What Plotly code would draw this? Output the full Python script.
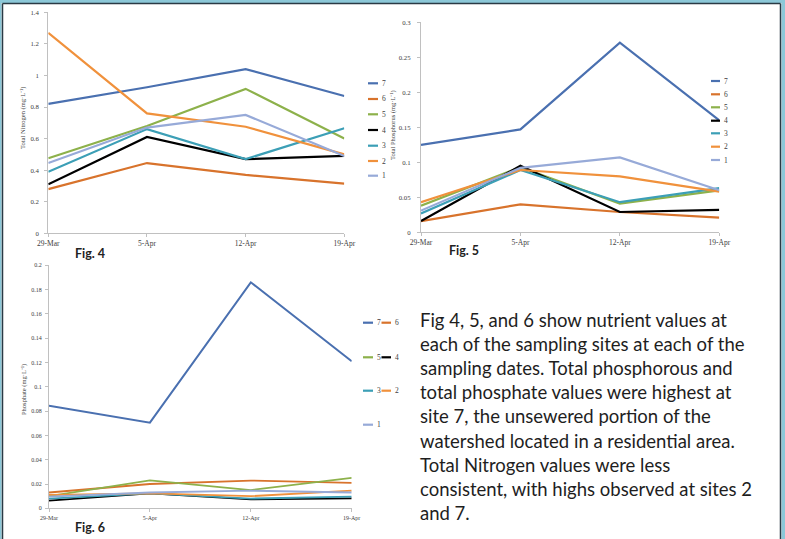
import plotly.graph_objects as go

W, H = 785, 539

dates = ["29-Mar", "5-Apr", "12-Apr", "19-Apr"]
sites = ["7", "6", "5", "4", "3", "2", "1"]

# Fig 4 - Total Nitrogen (mg/L)
tn_7 = [0.82, 0.925, 1.04, 0.87]
tn_6 = [0.28, 0.445, 0.37, 0.315]
tn_5 = [0.475, 0.68, 0.915, 0.60]
tn_4 = [0.31, 0.61, 0.47, 0.49]
tn_3 = [0.39, 0.66, 0.47, 0.665]
tn_2 = [1.27, 0.76, 0.675, 0.50]
tn_1 = [0.445, 0.67, 0.75, 0.49]

# Fig 5 - Total Phosphorus (mg/L)
tp_7 = [0.125, 0.147, 0.271, 0.16]
tp_6 = [0.016, 0.040, 0.029, 0.021]
tp_5 = [0.038, 0.093, 0.041, 0.060]
tp_4 = [0.016, 0.095, 0.029, 0.032]
tp_3 = [0.027, 0.089, 0.043, 0.063]
tp_2 = [0.043, 0.089, 0.080, 0.058]
tp_1 = [0.031, 0.092, 0.107, 0.060]

# Fig 6 - Phosphate (mg/L)
ph_7 = [0.0845, 0.0705, 0.186, 0.121]
ph_6 = [0.013, 0.020, 0.0228, 0.021]
ph_5 = [0.010, 0.023, 0.015, 0.025]
ph_4 = [0.0063, 0.0123, 0.0074, 0.0082]
ph_3 = [0.008, 0.0123, 0.008, 0.0096]
ph_2 = [0.011, 0.0123, 0.010, 0.0145]
ph_1 = [0.0096, 0.013, 0.0145, 0.013]

colors = {"7": "#4a70b0", "6": "#d8732c", "5": "#8db14b", "4": "#000000",
          "3": "#3c9fb6", "2": "#f0913c", "1": "#97aad8"}

tn = dict(zip(sites, [tn_7, tn_6, tn_5, tn_4, tn_3, tn_2, tn_1]))
tp = dict(zip(sites, [tp_7, tp_6, tp_5, tp_4, tp_3, tp_2, tp_1]))
ph = dict(zip(sites, [ph_7, ph_6, ph_5, ph_4, ph_3, ph_2, ph_1]))


def px(x):
    return x / W


def py(y):
    return 1 - y / H


fig = go.Figure()

for s in sites:
    fig.add_trace(go.Scatter(x=dates, y=tn[s], mode="lines", name=s,
                             line=dict(color=colors[s], width=2.2),
                             xaxis="x", yaxis="y", showlegend=False))
for s in sites:
    fig.add_trace(go.Scatter(x=dates, y=tp[s], mode="lines", name=s,
                             line=dict(color=colors[s], width=2.2),
                             xaxis="x2", yaxis="y2", showlegend=False))
for s in sites:
    fig.add_trace(go.Scatter(x=dates, y=ph[s], mode="lines", name=s,
                             line=dict(color=colors[s], width=2 if s == "7" else 1.8),
                             xaxis="x3", yaxis="y3", showlegend=False))

axis_col = "#c0c0c0"
xtick_font = dict(family="Liberation Serif", size=7.5, color="#404040")
ytick_font = dict(family="Liberation Serif", size=6.8, color="#404040")
tick_font6 = dict(family="Liberation Serif", size=6, color="#404040")


def xax(domain, anchor, font):
    return dict(domain=domain, anchor=anchor, type="category", range=[0, 3],
                showgrid=False, zeroline=False, showline=True, linecolor=axis_col,
                linewidth=1, ticks="outside", ticklen=3, tickcolor=axis_col,
                tickfont=font, fixedrange=True, automargin=False)


def yax(domain, anchor, rng, dtick, font, standoff):
    return dict(domain=domain, anchor=anchor, range=rng, dtick=dtick,
                showgrid=False, zeroline=False, showline=True, linecolor=axis_col,
                linewidth=1, ticks="outside", ticklen=3, tickcolor=axis_col,
                tickfont=font, fixedrange=True, automargin=False,
                ticklabelstandoff=standoff)


fig.update_layout(
    width=W, height=H, margin=dict(l=0, r=0, t=0, b=0, pad=0, autoexpand=False),
    paper_bgcolor="white", plot_bgcolor="white", showlegend=False,
    xaxis=xax([px(48.3), px(344.3)], "y", xtick_font),
    yaxis=yax([py(233.3), py(12.3)], "x", [0, 1.4], 0.2, ytick_font, 4),
    xaxis2=xax([px(421), px(719.3)], "y2", xtick_font),
    yaxis2=yax([py(232.3), py(22.3)], "x2", [0, 0.3], 0.05, ytick_font, 5),
    xaxis3=xax([px(49), px(351.7)], "y3", tick_font6),
    yaxis3=yax([py(508.3), py(265.3)], "x3", [0, 0.2], 0.02, tick_font6, 2),
)

shapes = []
annotations = []

# Legends drawn manually
leg_font = dict(family="Liberation Serif", size=7.5, color="#404040")


def legend_entry(s, x0, x1, y):
    shapes.append(dict(type="line", xref="paper", yref="paper",
                       x0=px(x0), x1=px(x1), y0=py(y), y1=py(y),
                       line=dict(color=colors[s], width=2.2)))
    annotations.append(dict(text=s, xref="paper", yref="paper", x=px(x1 + 1.5), y=py(y),
                            xanchor="left", yanchor="middle", showarrow=False, font=leg_font))


for s, y in zip(sites, [83.3, 99, 114.3, 130, 145.7, 161, 175.7]):
    legend_entry(s, 368, 378, y)
for s, y in zip(sites, [81, 94.3, 107.3, 120.7, 133.3, 146.7, 160]):
    legend_entry(s, 711, 720, y)
fig6_pos = [(363, 373, 322.7), (381.5, 391, 322.7), (363, 373, 357.3), (381.5, 391, 357.3),
            (363, 373, 390.7), (381.5, 391, 390.7), (363, 373, 424.7)]
for s, (x0, x1, y) in zip(sites, fig6_pos):
    legend_entry(s, x0, x1, y)

# Axis titles
title_font = dict(family="Liberation Serif", size=6.5, color="#404040")
annotations.append(dict(text="Total Nitrogen (mg·L⁻¹)", xref="paper", yref="paper",
                        x=px(23), y=py(118), textangle=-90, showarrow=False,
                        xanchor="center", yanchor="middle", font=title_font))
annotations.append(dict(text="Total Phosphorus (mg·L⁻¹)", xref="paper", yref="paper",
                        x=px(393), y=py(125), textangle=-90, showarrow=False,
                        xanchor="center", yanchor="middle", font=title_font))
annotations.append(dict(text="Phosphate (mg·L⁻¹)", xref="paper", yref="paper",
                        x=px(24), y=py(390), textangle=-90, showarrow=False,
                        xanchor="center", yanchor="middle", font=title_font))

# Figure labels
fig_font = dict(family="Lato", size=12.5, color="#222222")
for txt, x, y in [("<b>Fig. 4</b>", 73, 253), ("<b>Fig. 5</b>", 447, 250), ("<b>Fig. 6</b>", 73, 527)]:
    annotations.append(dict(text=txt, xref="paper", yref="paper", x=px(x), y=py(y),
                            xanchor="left", yanchor="middle", showarrow=False, font=fig_font))

# Body text
body_lines = [
    "Fig 4, 5, and 6 show nutrient values at",
    "each of the sampling sites at each of the",
    "sampling dates. Total phosphorous and",
    "total phosphate values were highest at",
    "site 7, the unsewered portion of the",
    "watershed located in a residential area.",
    "Total Nitrogen values were less",
    "consistent, with highs observed at sites 2",
    "and 7.",
]
for i, line in enumerate(body_lines):
    annotations.append(dict(text=line, xref="paper", yref="paper", x=px(418), y=py(320 + i * 24.1),
                            xanchor="left", yanchor="middle", showarrow=False,
                            font=dict(family="Lato", size=18.5, color="#1e1e1e")))

# Frame border
shapes.append(dict(type="rect", xref="paper", yref="paper", x0=0, x1=1, y0=py(0), y1=py(3),
                   line=dict(width=0), fillcolor="#8cc8d8", layer="above"))
shapes.append(dict(type="rect", xref="paper", yref="paper", x0=0, x1=px(1.5), y0=0, y1=1,
                   line=dict(width=0), fillcolor="#8cc8d8", layer="above"))
shapes.append(dict(type="rect", xref="paper", yref="paper", x0=px(781.5), x1=1, y0=0, y1=1,
                   line=dict(width=0), fillcolor="#8cc8d8", layer="above"))
shapes.append(dict(type="line", xref="paper", yref="paper", x0=px(2.5), x1=px(780.5), y0=py(3.5), y1=py(3.5),
                   line=dict(color="#2a3a44", width=1.5), layer="above"))
shapes.append(dict(type="line", xref="paper", yref="paper", x0=px(2.5), x1=px(2.5), y0=0, y1=py(3.5),
                   line=dict(color="#2a3a44", width=1.5), layer="above"))
shapes.append(dict(type="line", xref="paper", yref="paper", x0=px(780.5), x1=px(780.5), y0=0, y1=py(3.5),
                   line=dict(color="#2a3a44", width=1.5), layer="above"))

fig.update_layout(shapes=shapes, annotations=annotations)

fig.write_html("out.html", config={"displayModeBar": False},
               post_script="document.body.style.margin='0';document.body.style.overflow='hidden';")
